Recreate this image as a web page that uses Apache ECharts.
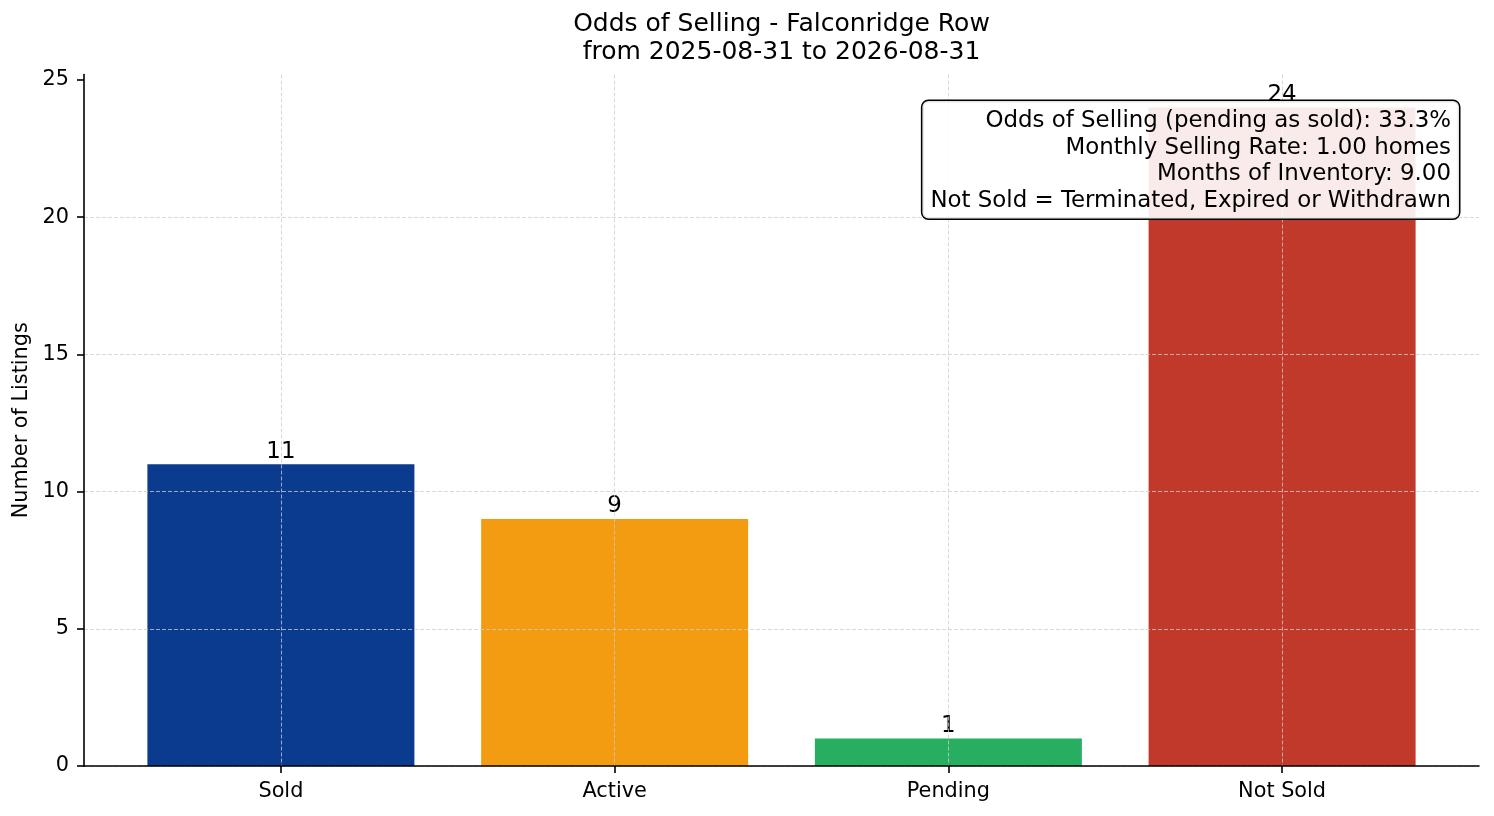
<!DOCTYPE html>
<html>
<head>
<meta charset="utf-8">
<script src="https://cdn.jsdelivr.net/npm/echarts@6/dist/echarts.min.js"></script>
<style>
html,body{margin:0;padding:0;background:#fff;}
#chart{width:1494px;height:816px;}
</style>
</head>
<body>
<div id="chart"></div>
<script>
const categories = ['Sold', 'Active', 'Pending', 'Not Sold'];
const listingCounts = [11, 9, 1, 24];
const barColors = ['#0b3b8f', '#f39c12', '#27ae60', '#c0392b'];
const yTicks = [0, 5, 10, 15, 20, 25];
const titleLines = ['Odds of Selling - Falconridge Row', 'from 2025-08-31 to 2026-08-31'];
const statsLines = [
  'Odds of Selling (pending as sold): 33.3%',
  'Monthly Selling Rate: 1.00 homes',
  'Months of Inventory: 9.00',
  'Not Sold = Terminated, Expired or Withdrawn'
];

const FONT = 'DejaVu Sans';
const catIdx = categories.map((c, i) => i);
const gridLine = { show: true, lineStyle: { color: 'rgba(205,205,205,0.85)', width: 0.9, type: [4, 2] } };

const chart = echarts.init(document.getElementById('chart'), null, { renderer: 'canvas' });
chart.setOption({
  backgroundColor: '#fff',
  animation: false,
  graphic: [{
    type: 'text',
    x: 781.5,
    y: 10,
    silent: true,
    style: {
      text: titleLines.join('\n'),
      font: '25px "DejaVu Sans"',
      fill: '#000',
      align: 'center',
      verticalAlign: 'top',
      lineHeight: 28.5
    }
  }, {
    type: 'text',
    x: 1459,
    y: 101,
    z: 100,
    silent: true,
    style: {
      text: statsLines.join('\n'),
      font: '22.9px "DejaVu Sans"',
      fill: '#000',
      align: 'right',
      verticalAlign: 'top',
      lineHeight: 26.6,
      backgroundColor: 'rgba(255,255,255,0.9)',
      borderColor: '#000',
      borderWidth: 1.5,
      borderRadius: 6,
      padding: [7, 8, 4, 8]
    }
  }],
  grid: { left: 84, right: 15, top: 74.5, bottom: 50, containLabel: false },
  xAxis: {
    type: 'value',
    min: -0.59,
    max: 3.59,
    z: 3,
    axisLine: { show: true, onZero: false, lineStyle: { color: '#000', width: 1.6 } },
    axisTick: { show: true, length: 7, customValues: catIdx, lineStyle: { color: '#000', width: 1.6 } },
    axisLabel: {
      customValues: catIdx,
      formatter: v => categories[Math.round(v)] || '',
      fontFamily: FONT, fontSize: 20.8, color: '#000', margin: 15
    },
    splitLine: gridLine
  },
  yAxis: {
    type: 'value',
    min: 0,
    max: 25.2,
    z: 3,
    name: 'Number of Listings',
    nameLocation: 'middle',
    nameGap: 42,
    nameTextStyle: { fontFamily: FONT, fontSize: 20.8, color: '#000' },
    axisLine: { show: true, onZero: false, lineStyle: { color: '#000', width: 1.6 } },
    axisTick: { show: true, length: 7, customValues: yTicks, lineStyle: { color: '#000', width: 1.6 } },
    axisLabel: { customValues: yTicks, fontFamily: FONT, fontSize: 20.8, color: '#000', margin: 15 },
    splitLine: Object.assign({ showMaxLine: false }, gridLine)
  },
  series: [{
    type: 'bar',
    barWidth: 267,
    z: 2,
    data: listingCounts.map((v, i) => ({ value: [i, v], itemStyle: { color: barColors[i] } })),
    label: {
      show: true,
      position: 'top',
      distance: 1,
      formatter: p => String(p.value[1]),
      fontFamily: FONT, fontSize: 22.9, color: '#000'
    }
  }]
});
</script>
</body>
</html>
